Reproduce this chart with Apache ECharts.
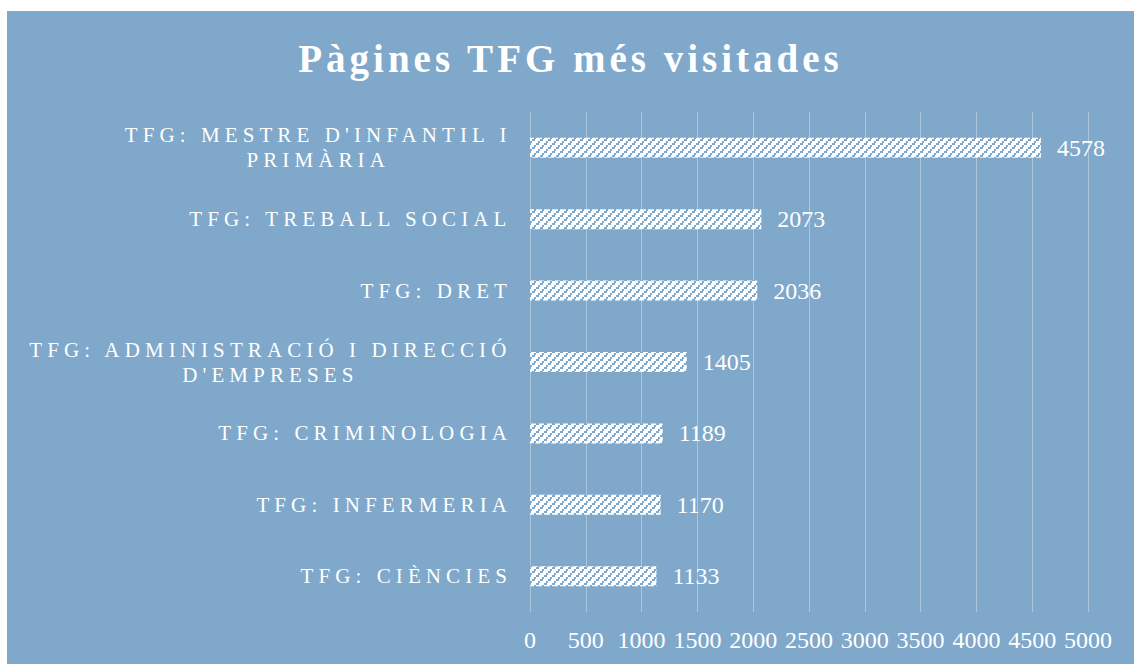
<!DOCTYPE html>
<html>
<head>
<meta charset="utf-8">
<script src="https://cdn.jsdelivr.net/npm/echarts@6/dist/echarts.min.js"></script>
<style>
  html, body { margin: 0; padding: 0; background: #ffffff; }
  #chart { position: absolute; left: 7px; top: 11px; width: 1127px; height: 653px; }
  text[style*="LSPcat"] { letter-spacing: 5.1px; }
  text[style*="LSPtitle"] { letter-spacing: 4px; }
</style>
</head>
<body>
<div id="chart"></div>
<script>
// ---- data ----
const categories = [
  "TFG: MESTRE D'INFANTIL I PRIMÀRIA",
  "TFG: TREBALL SOCIAL",
  "TFG: DRET",
  "TFG: ADMINISTRACIÓ I DIRECCIÓ D'EMPRESES",
  "TFG: CRIMINOLOGIA",
  "TFG: INFERMERIA",
  "TFG: CIÈNCIES"
];
const visits = [4578, 2073, 2036, 1405, 1189, 1170, 1133];
const axisTicks = [0, 500, 1000, 1500, 2000, 2500, 3000, 3500, 4000, 4500, 5000];
const titleText = "Pàgines TFG més visitades";

// ---- letter spacing aware measurement ----
const SPACING = { LSPcat: 5.1, LSPtitle: 4 };
const mctx = document.createElement('canvas').getContext('2d');
echarts.setPlatformAPI({
  measureText: function (text, font) {
    mctx.font = font || '12px sans-serif';
    let w = mctx.measureText(text).width;
    for (const k in SPACING) {
      if (font && font.indexOf(k) >= 0) { w += SPACING[k] * Array.from(text).length; }
    }
    return { width: w };
  }
});

const BG = '#7FA8CA';
const serif = "'Liberation Serif', 'Times New Roman', serif";

// hatch pattern tile
function makePattern() {
  const c = document.createElement('canvas');
  c.width = 8; c.height = 8;
  const g = c.getContext('2d');
  g.fillStyle = '#ffffff';
  g.fillRect(0, 0, 8, 8);
  g.fillStyle = BG;
  g.fillRect(5, 0, 3, 2);
  g.fillRect(3, 2, 2, 2);
  g.fillRect(1, 4, 3, 2);
  g.fillRect(0, 6, 1, 2);
  g.fillRect(7, 6, 1, 2);
  return c;
}

function wrapLabel(s) {
  const limit = 30;
  if (s.length <= limit) return s;
  const idx = s.lastIndexOf(' ', limit);
  return s.slice(0, idx) + '\n' + s.slice(idx + 1);
}

const chart = echarts.init(document.getElementById('chart'), null, { renderer: 'svg' });
chart.setOption({
  backgroundColor: BG,
  animation: false,
  title: {
    text: titleText,
    left: 'center',
    top: 21,
    textStyle: {
      color: '#ffffff',
      fontSize: 39,
      fontWeight: 'bold',
      fontFamily: "'Liberation Serif', LSPtitle"
    }
  },
  grid: { left: 523, right: 46, top: 101, bottom: 52, containLabel: false },
  xAxis: {
    type: 'value',
    min: axisTicks[0],
    max: axisTicks[axisTicks.length - 1],
    interval: axisTicks[1] - axisTicks[0],
    axisLine: { show: false },
    axisTick: { show: false },
    splitLine: { show: true, lineStyle: { color: 'rgba(255,255,255,0.35)', width: 1 } },
    axisLabel: {
      color: '#ffffff',
      fontSize: 24,
      fontFamily: serif,
      margin: 16,
      formatter: function (v) { return String(v); }
    }
  },
  yAxis: {
    type: 'category',
    inverse: true,
    data: categories,
    axisLine: { show: false },
    axisTick: { show: false },
    splitLine: { show: false },
    axisLabel: {
      margin: 18,
      formatter: function (v) { return '{c|' + wrapLabel(v) + '}'; },
      rich: {
        c: {
          align: 'center',
          color: '#ffffff',
          fontSize: 21,
          lineHeight: 25,
          fontFamily: "'Liberation Serif', LSPcat"
        }
      }
    }
  },
  series: [{
    type: 'bar',
    data: visits,
    barWidth: 20,
    itemStyle: { color: { image: makePattern(), repeat: 'repeat' } },
    label: {
      show: true,
      position: 'right',
      distance: 16,
      color: '#ffffff',
      fontSize: 24,
      fontFamily: serif
    }
  }]
});
</script>
</body>
</html>
